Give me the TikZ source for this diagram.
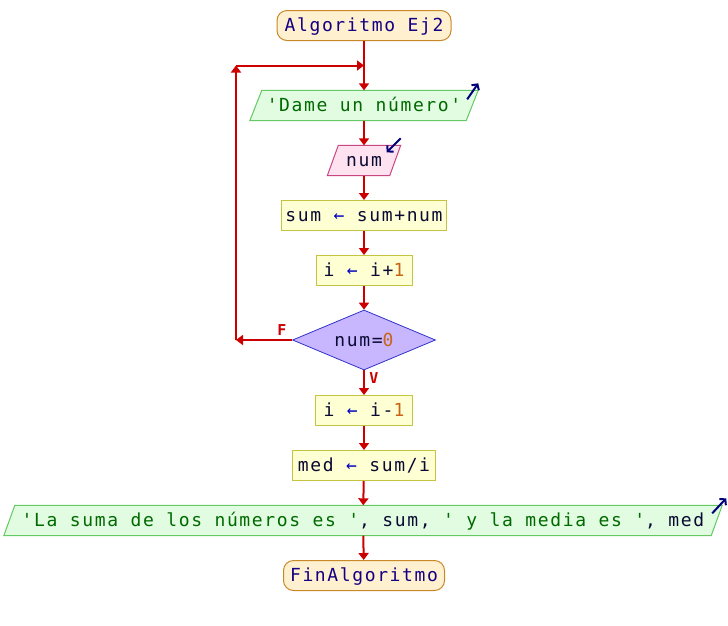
\documentclass[tikz,border=0pt]{standalone}
\usepackage{fontspec}
\usetikzlibrary{arrows.meta,shapes.geometric,calc,backgrounds}
\newfontfamily\flowfont[LetterSpace=9]{DejaVu Sans Mono}

\definecolor{flowred}{RGB}{204,0,0}
\definecolor{termfill}{RGB}{255,240,208}
\definecolor{termdraw}{RGB}{200,136,40}
\definecolor{outfill}{RGB}{226,252,226}
\definecolor{outdraw}{RGB}{100,200,100}
\definecolor{infill}{RGB}{255,226,240}
\definecolor{indraw}{RGB}{200,70,130}
\definecolor{asgfill}{RGB}{255,255,212}
\definecolor{asgdraw}{RGB}{196,196,64}
\definecolor{condfill}{RGB}{200,182,255}
\definecolor{conddraw}{RGB}{50,50,200}
\definecolor{kwc}{RGB}{20,0,130}
\definecolor{varc}{RGB}{10,10,50}
\definecolor{strc}{RGB}{0,105,0}
\definecolor{numc}{RGB}{200,100,20}
\definecolor{opc}{RGB}{0,0,190}
\definecolor{iconc}{RGB}{0,0,120}

\newcommand{\la}{\textcolor{opc}{←}}
\newcommand{\nm}[1]{\textcolor{numc}{#1}}
\newcommand{\st}[1]{\textcolor{strc}{#1}}

\begin{document}
\begin{tikzpicture}[x=1pt,y=-1pt,
  every node/.style={font=\flowfont\fontsize{18}{21}\selectfont, inner sep=0pt,
    text=varc, text height=15pt, text depth=3pt},
  term/.style={draw=termdraw, fill=termfill, line width=1pt, rounded corners=10pt,
    minimum height=30pt, text=kwc},
  asg/.style={draw=asgdraw, fill=asgfill, line width=1pt, minimum height=30pt},
  io/.style={minimum height=30pt},
  cond/.style={diamond, aspect=2.4, draw=conddraw, fill=condfill, line width=0.8pt,
    minimum width=143pt, minimum height=60pt},
  outshape/.style={draw=outdraw, fill=outfill, line width=1pt},
  inshape/.style={draw=indraw, fill=infill, line width=1pt},
  icon/.style={draw=iconc, line width=2pt, -{Straight Barb[length=4pt,width=9pt]}},
  flow/.style={draw=flowred, line width=2pt, -{Triangle[length=7pt,width=10pt]}},
  lbl/.style={text=flowred, text height=, text depth=,
    font=\flowfont\bfseries\fontsize{15}{17}\selectfont}]

\useasboundingbox (0,0) rectangle (728,625);

% blocks
\node[term, minimum width=174pt] (start) at (364,25.5) {Algoritmo Ej2};
\node[io, minimum width=228pt] (p1) at (364,105.5) {\st{'Dame un número'}};
\node[io, minimum width=73pt] (p2) at (364,160.5) {num};
\node[asg, minimum width=165pt] (a1) at (364,215.5) {sum \la{} sum+num};
\node[asg, minimum width=96pt] (a2) at (364,270.5) {i \la{} i+\nm{1}};
\node[cond] (c1) at (364,340) {num=\nm{0}};
\node[asg, minimum width=97pt] (a3) at (364,410.5) {i \la{} i-\nm{1}};
\node[asg, minimum width=143pt] (a4) at (364,465.5) {med \la{} sum/i};
\node[io, minimum width=718pt] (p3) at (363,520.5)
  {\st{'La suma de los números es '}, sum, \st{' y la media es '}, med};
\node[term, minimum width=161pt] (end) at (364,575.5) {FinAlgoritmo};

% page background and parallelogram outlines for input/output
\begin{scope}[on background layer]
  \fill[white] (0,0) rectangle (728,625);
  \path[outshape] (p1.south west) -- ($(p1.north west)+(12,0)$) -- (p1.north east)
    -- ($(p1.south east)+(-12,0)$) -- cycle;
  \path[inshape] (p2.south west) -- ($(p2.north west)+(11,0)$) -- (p2.north east)
    -- ($(p2.south east)+(-11,0)$) -- cycle;
  \path[outshape] (p3.south west) -- ($(p3.north west)+(11,0)$) -- (p3.north east)
    -- ($(p3.south east)+(-11,0)$) -- cycle;
\end{scope}

% read/write markers
\draw[icon] ($(p1.north east)+(-11,9)$) -- ($(p1.north east)+(0,-7)$);
\draw[icon] ($(p2.north east)+(0,-7)$) -- ($(p2.north east)+(-14,7)$);
\draw[icon] ($(p3.north east)+(-10,8)$) -- ($(p3.north east)+(4,-7)$);

% loop coordinates
\coordinate (lb) at (236,340);
\coordinate (lt) at (236,65.5);
\coordinate (lj) at (364,65.5);

% connectors
\draw[flow] (start) -- (p1);
\draw[flow] (p1) -- (p2);
\draw[flow] (p2) -- (a1);
\draw[flow] (a1) -- (a2);
\draw[flow] (a2) -- (c1);
\draw[flow] (c1.west) -- (lb);
\draw[flow] (lb) -- (lt);
\draw[flow] (lt) -- (lj);
\draw[flow] (c1.south) -- (a3);
\draw[flow] (a3) -- (a4);
\draw[flow] (a4) -- (p3);
\draw[flow] (p3) -- (end);

% branch labels
\node[lbl] (lf) at (282,330) {F};
\node[lbl] (lv) at (374,378) {V};
\end{tikzpicture}
\end{document}
